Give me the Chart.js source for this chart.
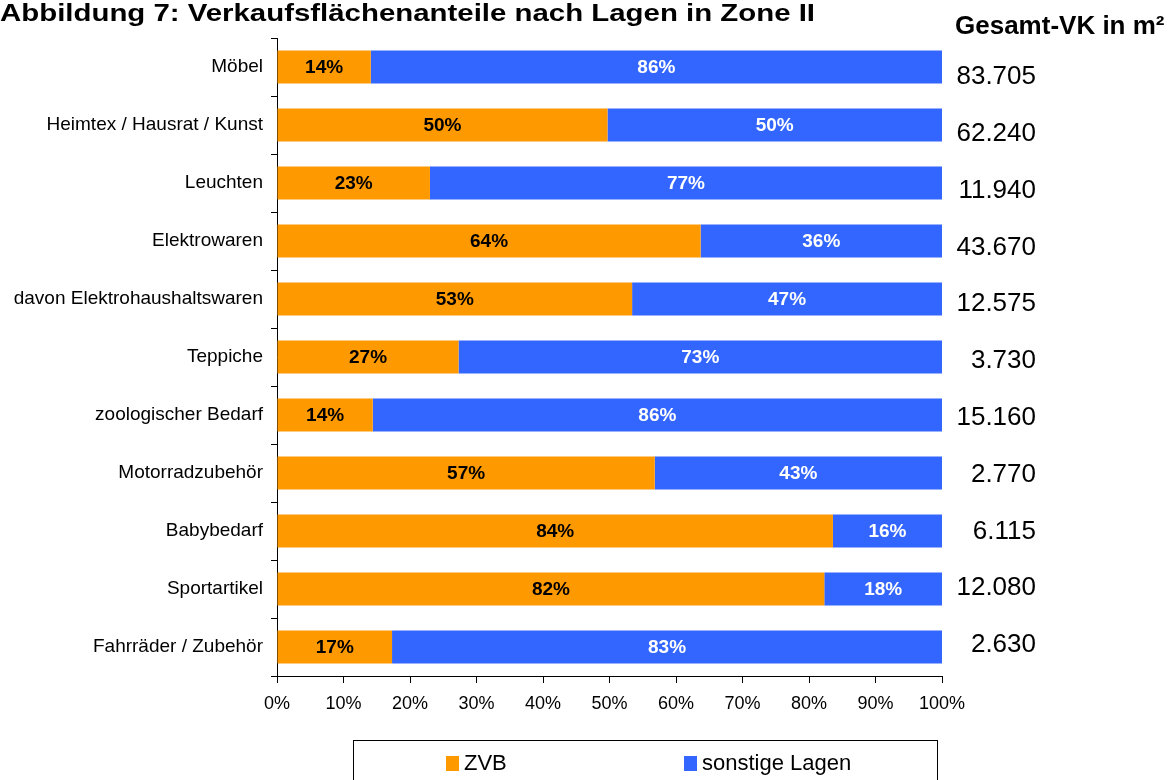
<!DOCTYPE html>
<html>
<head>
<meta charset="utf-8">
<script src="https://cdn.jsdelivr.net/npm/chart.js@4/dist/chart.umd.min.js"></script>
<style>
  html, body { margin: 0; padding: 0; background: #fff; }
  #wrap { width: 1171px; height: 780px; position: relative; }
</style>
</head>
<body>
<div id="wrap"><canvas id="chart" width="1171" height="780"></canvas></div>
<script>
// --- DATA ---
const categories = [
    'Möbel',
    'Heimtex / Hausrat / Kunst',
    'Leuchten',
    'Elektrowaren',
    'davon Elektrohaushaltswaren',
    'Teppiche',
    'zoologischer Bedarf',
    'Motorradzubehör',
    'Babybedarf',
    'Sportartikel',
    'Fahrräder / Zubehör'
];
const zvbShare = [14.1, 49.7, 23.0, 63.7, 53.4, 27.3, 14.4, 56.8, 83.6, 82.3, 17.3];
const otherShare = [85.9, 50.3, 77.0, 36.3, 46.6, 72.7, 85.6, 43.2, 16.4, 17.7, 82.7];
const totals = ['83.705', '62.240', '11.940', '43.670', '12.575', '3.730', '15.160', '2.770', '6.115', '12.080', '2.630'];
const xTicks = [0, 10, 20, 30, 40, 50, 60, 70, 80, 90, 100];

const FONT = '"Liberation Sans", Arial, sans-serif';
const ORANGE = '#FF9900';
const BLUE = '#3366FF';

// draws the percentage inside each bar segment
const barLabels = {
    id: 'barLabels',
    afterDatasetsDraw(chart) {
        const ctx = chart.ctx;
        ctx.save();
        ctx.font = `bold 19px ${FONT}`;
        ctx.textAlign = 'center';
        ctx.textBaseline = 'middle';
        chart.data.datasets.forEach((ds, di) => {
            const meta = chart.getDatasetMeta(di);
            meta.data.forEach((bar, i) => {
                const c = bar.getCenterPoint();
                ctx.fillStyle = di === 0 ? '#000' : '#fff';
                ctx.fillText(Math.round(ds.data[i]) + '%', c.x, c.y + 1);
            });
        });
        ctx.restore();
    }
};

// title, right column with totals, and the boxed legend
const extras = {
    id: 'extras',
    afterDraw(chart) {
        const ctx = chart.ctx;
        const yScale = chart.scales.y;
        ctx.save();
        ctx.fillStyle = '#000';
        ctx.textBaseline = 'alphabetic';
        ctx.textAlign = 'left';

        // the original title is set wide, so stretch it to its width
        const title = 'Abbildung 7: Verkaufsflächenanteile nach Lagen in Zone II';
        ctx.font = `bold 23px ${FONT}`;
        const sx = 815 / ctx.measureText(title).width;
        ctx.save();
        ctx.scale(sx, 1);
        ctx.fillText(title, 0, 21);
        ctx.restore();

        ctx.font = `bold 26px ${FONT}`;
        ctx.fillText('Gesamt-VK in m²', 955, 34);

        // totals column
        ctx.font = `26px ${FONT}`;
        ctx.textAlign = 'right';
        ctx.textBaseline = 'middle';
        const first = yScale.getPixelForValue(0) + 10;
        const last = yScale.getPixelForValue(totals.length - 1) - 2;
        totals.forEach((t, i) => {
            const y = first + i * (last - first) / (totals.length - 1);
            ctx.fillText(t, 1036, y);
        });

        // legend box
        ctx.strokeStyle = '#000';
        ctx.lineWidth = 1;
        ctx.strokeRect(353.5, 740.5, 584, 60);
        ctx.font = `22px ${FONT}`;
        ctx.textAlign = 'left';
        const legendX = [446, 684];
        chart.data.datasets.forEach((ds, di) => {
            ctx.fillStyle = ds.backgroundColor;
            ctx.fillRect(legendX[di], 756, 13, 15);
            ctx.fillStyle = '#000';
            ctx.fillText(ds.label, legendX[di] + 18, 764);
        });
        ctx.restore();
    }
};

new Chart(document.getElementById('chart').getContext('2d'), {
    type: 'bar',
    data: {
        labels: categories,
        datasets: [
            { label: 'ZVB', data: zvbShare, backgroundColor: ORANGE },
            { label: 'sonstige Lagen', data: otherShare, backgroundColor: BLUE }
        ]
    },
    options: {
        indexAxis: 'y',
        responsive: false,
        animation: false,
        events: [],
        layout: { padding: { top: 38, right: 229, left: 0, bottom: 0 } },
        datasets: { bar: { categoryPercentage: 1, barPercentage: 0.57, borderWidth: 0 } },
        plugins: { legend: { display: false }, tooltip: { enabled: false }, title: { display: false } },
        scales: {
            x: {
                stacked: true, min: 0, max: 100,
                afterBuildTicks: (axis) => { axis.ticks = xTicks.map(v => ({ value: v })); },
                afterFit: (axis) => { axis.height = 104; },
                border: { color: '#000', width: 1 },
                grid: { drawOnChartArea: false, color: '#000', tickLength: 7 },
                ticks: { color: '#000', padding: 10, font: { family: FONT, size: 18 }, callback: v => v + '%' }
            },
            y: {
                stacked: true,
                afterFit: (axis) => { axis.width = 277; },
                border: { color: '#000', width: 1 },
                grid: { drawOnChartArea: false, color: '#000', tickLength: 6, offset: true },
                ticks: { color: '#000', padding: 8, font: { family: FONT, size: 19 } }
            }
        }
    },
    plugins: [barLabels, extras]
});
</script>
</body>
</html>
